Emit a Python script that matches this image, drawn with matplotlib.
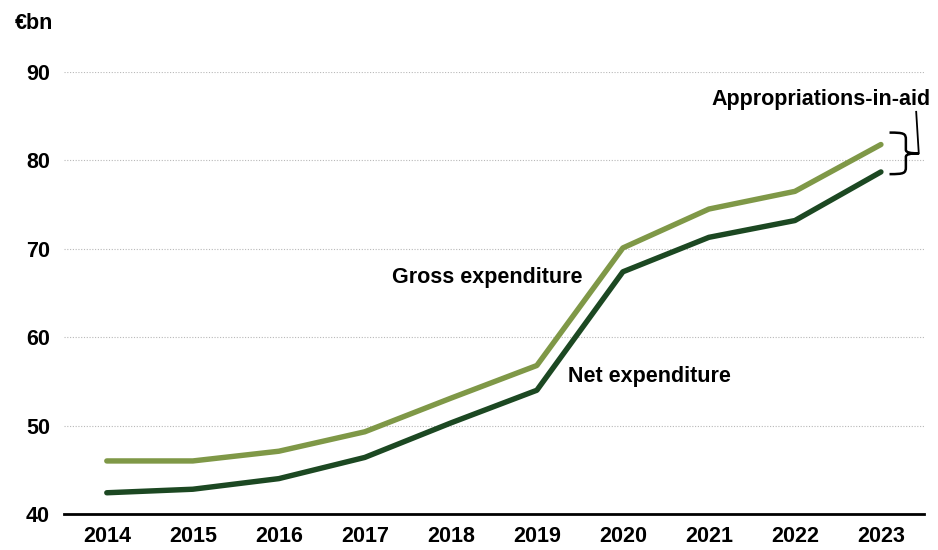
import matplotlib
matplotlib.use("Agg")
import matplotlib.pyplot as plt
from matplotlib.path import Path
from matplotlib.patches import PathPatch

years = ["2014", "2015", "2016", "2017", "2018", "2019", "2020", "2021", "2022", "2023"]
gross = [46.0, 46.0, 47.1, 49.3, 53.1, 56.8, 70.1, 74.5, 76.5, 81.8]
net = [42.4, 42.8, 44.0, 46.4, 50.3, 54.0, 67.4, 71.3, 73.2, 78.7]
yticks = [40, 50, 60, 70, 80, 90]

plt.rcParams["font.family"] = ["Liberation Sans", "DejaVu Sans"]
plt.rcParams["font.weight"] = "bold"

GROSS_C = "#7f9847"
NET_C = "#1c4822"
FS = 15.5

fig = plt.figure(figsize=(9.38, 5.5), dpi=100)
ax = fig.add_axes([0.068, 0.0655, 0.917, 0.8035])

x = list(range(len(years)))
ax.plot(x, gross, color=GROSS_C, lw=3.9, solid_capstyle="round", solid_joinstyle="round", zorder=3)
ax.plot(x, net, color=NET_C, lw=3.9, solid_capstyle="round", solid_joinstyle="round", zorder=3)

ax.set_xlim(-0.5, len(years) - 0.5)
ax.set_ylim(40, 90)
ax.set_yticks(yticks)
ax.set_xticks(x)
ax.set_xticklabels(years)
ax.tick_params(axis="both", length=0, labelsize=FS)
ax.tick_params(axis="y", pad=10)
ax.tick_params(axis="x", pad=9)
for lab in ax.get_xticklabels() + ax.get_yticklabels():
    lab.set_fontweight("bold")

ax.grid(axis="y", color="#b8b8b8", lw=0.8, ls=(0, (1, 1.5)))
ax.set_axisbelow(True)
for s in ["top", "right", "left"]:
    ax.spines[s].set_visible(False)
ax.spines["bottom"].set_linewidth(2)
ax.spines["bottom"].set_color("black")
ax.spines["bottom"].set_zorder(4)

fig.text(0.016, 0.958, "€bn", fontsize=FS, fontweight="bold", va="center", ha="left")

ax.text(4.42, 66.7, "Gross expenditure", fontsize=FS, fontweight="bold", ha="center", va="center")
ax.text(6.31, 55.6, "Net expenditure", fontsize=FS, fontweight="bold", ha="center", va="center")

# Curly brace spanning the gap between the two series in the final year
last = len(years) - 1
bx0 = last + 0.10
bx1 = last + 0.29
bx2 = last + 0.44
ytop = gross[-1] + 1.35
ybot = net[-1] - 0.25
ymid = (ytop + ybot) / 2
verts = [
    (bx0, ytop), (bx1 - 0.02, ytop), (bx1, ytop - 0.1), (bx1, ytop - 0.8),
    (bx1, ymid + 0.4),
    (bx1, ymid + 0.1), (bx1 + 0.05, ymid), (bx2, ymid),
    (bx1 + 0.05, ymid), (bx1, ymid - 0.1), (bx1, ymid - 0.4),
    (bx1, ybot + 0.8),
    (bx1, ybot + 0.1), (bx1 - 0.02, ybot), (bx0, ybot),
]
codes = [
    Path.MOVETO, Path.CURVE4, Path.CURVE4, Path.CURVE4,
    Path.LINETO,
    Path.CURVE4, Path.CURVE4, Path.CURVE4,
    Path.CURVE4, Path.CURVE4, Path.CURVE4,
    Path.LINETO,
    Path.CURVE4, Path.CURVE4, Path.CURVE4,
]
brace = PathPatch(Path(verts, codes), fill=False, lw=1.8, edgecolor="black",
                  clip_on=False, zorder=5, capstyle="butt")
ax.add_patch(brace)
ax.plot([bx2, bx2 - 0.03], [ymid, ymid + 4.7], color="black", lw=1.3, clip_on=False, zorder=5)

ax.text(last - 0.7, 86.9, "Appropriations-in-aid", fontsize=FS, fontweight="bold",
        ha="center", va="center")

fig.savefig("out.png", dpi=100)
